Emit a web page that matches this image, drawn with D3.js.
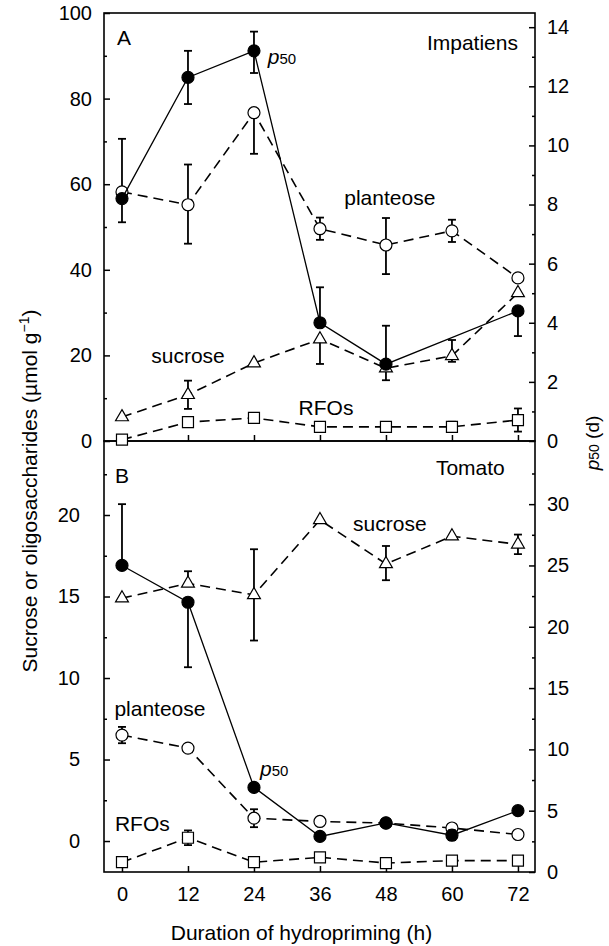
<!DOCTYPE html>
<html>
<head>
<meta charset="utf-8">
<title>Hydropriming</title>
<script src="https://d3js.org/d3.v7.min.js"></script>
<style>
	body{ margin:0; background:#fff; }
	text{ font-family: "Liberation Sans", Arial, sans-serif; fill:#000; }
</style>
</head>
<body>
<script>
	// values
	var hours = [0, 12, 24, 36, 48, 60, 72]

	// A: Impatiens (sugars on left axis, p50 on right axis)
	var impP50 = [8.2, 12.3, 13.2, 4.0, 2.6, null, 4.4]
	var impP50Hi = [0, 0.9, 0.65, 1.2, 1.3, 0, 0]
	var impP50Lo = [0.8, 0.9, 0.75, 0, 0, 0, 0.85]
	var impPlanteose = [58.2, 55.2, 76.7, 49.6, 45.8, 49.1, 38.1]
	var impPlanteoseHi = [12.4, 9.4, 0, 2.6, 6.3, 2.6, 0]
	var impPlanteoseLo = [0, 9.1, 9.6, 2.6, 6.8, 2.6, 0]
	var impSucrose = [5.6, 10.8, 18.2, 23.8, 17.0, 19.9, 34.6]
	var impSucroseHi = [0, 3.3, 0, 0, 0, 3.7, 0]
	var impSucroseLo = [0, 3.3, 0, 5.8, 2.8, 1.4, 0]
	var impRFOs = [0.3, 4.4, 5.4, 3.3, 3.3, 3.3, 4.9]
	var impRFOsErr = [0.5, 1.0, 0, 0, 0, 1.2, 2.7]

	// B: Tomato
	var tomP50 = [25.0, 22.0, 6.9, 2.9, 4.0, 3.0, 5.0]
	var tomP50Hi = [5.0, 0, 0, 0, 0, 0.4, 0]
	var tomP50Lo = [0, 5.3, 0, 0, 0, 0.4, 0]
	var tomSucrose = [14.9, 15.8, 15.1, 19.7, 17.0, 18.7, 18.2]
	var tomSucroseHi = [0, 0.75, 2.8, 0, 1.1, 0, 0.6]
	var tomSucroseLo = [0, 0, 2.8, 0, 1.0, 0, 0.6]
	var tomPlanteose = [6.5, 5.7, 1.4, 1.2, 1.1, 0.8, 0.4]
	var tomPlanteoseErr = [0.5, 0, 0.55, 0, 0, 0, 0]
	var tomRFOs = [-1.3, 0.2, -1.3, -1.0, -1.35, -1.2, -1.2]
	var tomRFOsErr = [0, 0.45, 0, 0, 0, 0, 0]

	var xTicks = [0, 12, 24, 36, 48, 60, 72]
	var aLeftTicks = [0, 20, 40, 60, 80, 100]
	var aLeftMinor = [10, 30, 50, 70, 90]
	var aRightTicks = [0, 2, 4, 6, 8, 10, 12, 14]
	var aRightMinor = [1, 3, 5, 7, 9, 11, 13]
	var bLeftTicks = [0, 5, 10, 15, 20]
	var bLeftMinor = [2.5, 7.5, 12.5, 17.5, 22.5]
	var bRightTicks = [0, 5, 10, 15, 20, 25, 30]
	var bRightMinor = [2.5, 7.5, 12.5, 17.5, 22.5, 27.5, 32.5]

	var W = 609, H = 946
	var padL = 104, padR = 535, topY = 13, midY = 441, botY = 872

	var svg = d3.select("body").append("svg").attr("width", W).attr("height", H)

	var x = d3.scaleLinear().domain([-3.27, 75.1]).range([padL, padR])
	var yA = d3.scaleLinear().domain([0, 100]).range([midY, topY])
	var yA2 = d3.scaleLinear().domain([0, 14.48]).range([midY, topY])
	var yB = d3.scaleLinear().domain([-1.9, 24.54]).range([botY, midY])
	var yB2 = d3.scaleLinear().domain([0, 35.15]).range([botY, midY])

	function axes(y, y2, y0, lt, lm, rt, rm, leftPad, showX){
		var g = svg.append("g")
		g.append("g").attr("transform", "translate(" + padL + ",0)")
			.call(d3.axisLeft(y).tickValues(lt).tickSizeInner(-6).tickSizeOuter(0).tickPadding(leftPad))
		g.append("g").attr("transform", "translate(" + padL + ",0)")
			.call(d3.axisLeft(y).tickValues(lm).tickSizeInner(-3).tickSizeOuter(0).tickFormat(""))
		g.append("g").attr("transform", "translate(" + padR + ",0)")
			.call(d3.axisRight(y2).tickValues(rt).tickSizeInner(-6).tickSizeOuter(0).tickPadding(12))
		g.append("g").attr("transform", "translate(" + padR + ",0)")
			.call(d3.axisRight(y2).tickValues(rm).tickSizeInner(-3).tickSizeOuter(0).tickFormat(""))
		g.append("g").attr("transform", "translate(0," + y0 + ")")
			.call(d3.axisBottom(x).tickValues(xTicks).tickSizeInner(-6).tickSizeOuter(0).tickPadding(15)
				.tickFormat(showX ? d3.format("d") : ""))
		g.selectAll(".domain").remove()
		g.selectAll(".tick line").attr("stroke", "#000").attr("stroke-width", 1.5)
		g.selectAll(".tick text").attr("font-size", 20).attr("font-family", "Liberation Sans, Arial, sans-serif")
	}

	axes(yA, yA2, midY, aLeftTicks, aLeftMinor, aRightTicks, aRightMinor, 12, false)
	axes(yB, yB2, botY, bLeftTicks, bLeftMinor, bRightTicks, bRightMinor, 24, true)

	// frames
	svg.append("rect").attr("x", padL).attr("y", topY).attr("width", padR - padL).attr("height", midY - topY)
		.attr("fill", "none").attr("stroke", "#000").attr("stroke-width", 1.6)
	svg.append("rect").attr("x", padL).attr("y", midY).attr("width", padR - padL).attr("height", botY - midY)
		.attr("fill", "none").attr("stroke", "#000").attr("stroke-width", 1.6)

	function series(y, vals, hi, lo, marker, dashed){
		var pts = hours.map(function(h, i){ return {h: h, v: vals[i], hi: hi[i], lo: lo[i]} })
			.filter(function(d){ return d.v != null })
		var g = svg.append("g")
		var line = d3.line().x(function(d){ return x(d.h) }).y(function(d){ return y(d.v) })
		g.append("path").datum(pts).attr("d", line).attr("fill", "none").attr("stroke", "#000")
			.attr("stroke-width", dashed ? 1.6 : 1.3)
			.attr("stroke-dasharray", dashed ? "10,6" : null)

		// error bars
		var cap = 4
		pts.forEach(function(d){
			var cx = x(d.h)
			if(d.hi > 0){
				g.append("line").attr("x1", cx).attr("x2", cx).attr("y1", y(d.v)).attr("y2", y(d.v + d.hi))
					.attr("stroke", "#000").attr("stroke-width", 1.8)
				g.append("line").attr("x1", cx - cap).attr("x2", cx + cap).attr("y1", y(d.v + d.hi)).attr("y2", y(d.v + d.hi))
					.attr("stroke", "#000").attr("stroke-width", 1.8)
			}
			if(d.lo > 0){
				g.append("line").attr("x1", cx).attr("x2", cx).attr("y1", y(d.v)).attr("y2", y(d.v - d.lo))
					.attr("stroke", "#000").attr("stroke-width", 1.8)
				g.append("line").attr("x1", cx - cap).attr("x2", cx + cap).attr("y1", y(d.v - d.lo)).attr("y2", y(d.v - d.lo))
					.attr("stroke", "#000").attr("stroke-width", 1.8)
			}
		})

		// markers
		var m = g.selectAll(".m").data(pts).enter()
		if(marker == "filled" || marker == "open"){
			m.append("circle").attr("cx", function(d){ return x(d.h) }).attr("cy", function(d){ return y(d.v) })
				.attr("r", 6).attr("fill", marker == "filled" ? "#000" : "#fff").attr("stroke", "#000").attr("stroke-width", 1.2)
		}else{
			var sym = d3.symbol().type(marker == "triangle" ? d3.symbolTriangle : d3.symbolSquare)
				.size(marker == "triangle" ? 72 : 121)
			m.append("path").attr("d", sym)
				.attr("transform", function(d){ return "translate(" + x(d.h) + "," + y(d.v) + ")" })
				.attr("fill", "#fff").attr("stroke", "#000").attr("stroke-width", 1.2)
		}
	}

	// panel A
	series(yA, impRFOs, impRFOsErr, impRFOsErr, "square", true)
	series(yA, impSucrose, impSucroseHi, impSucroseLo, "triangle", true)
	series(yA, impPlanteose, impPlanteoseHi, impPlanteoseLo, "open", true)
	series(yA2, impP50, impP50Hi, impP50Lo, "filled", false)

	// panel B
	series(yB, tomRFOs, tomRFOsErr, tomRFOsErr, "square", true)
	series(yB, tomPlanteose, tomPlanteoseErr, tomPlanteoseErr, "open", true)
	series(yB, tomSucrose, tomSucroseHi, tomSucroseLo, "triangle", true)
	series(yB2, tomP50, tomP50Hi, tomP50Lo, "filled", false)

	// labels in data units of each panel's left axis
	function label(y, h, v, txt, anchor){
		return svg.append("text").attr("x", x(h)).attr("y", y(v)).attr("dy", "0.36em")
			.attr("font-size", 21).attr("text-anchor", anchor || "middle").text(txt)
	}
	function p50(y, h, v){
		var t = svg.append("text").attr("x", x(h)).attr("y", y(v)).attr("dy", "0.2em").attr("font-size", 21)
		t.append("tspan").attr("font-style", "italic").text("p")
		t.append("tspan").attr("font-size", 15).text("50")
	}

	label(yA, -0.9, 94.2, "A", "start")
	label(yA, 72, 93.2, "Impatiens", "end")
	p50(yA, 26.5, 89)
	label(yA, 48.7, 57, "planteose")
	label(yA, 12, 19.9, "sucrose")
	label(yA, 37.1, 7.9, "RFOs")

	label(yB, -1.27, 22.45, "B", "start")
	label(yB, 69.6, 22.9, "Tomato", "end")
	label(yB, 48.7, 19.5, "sucrose")
	label(yB, 6.9, 8.16, "planteose")
	p50(yB, 25.1, 4.23)
	label(yB, 3.7, 1.1, "RFOs")

	// axis titles
	svg.append("text").attr("x", (padL + padR) / 2 - 18).attr("y", 940).attr("text-anchor", "middle")
		.attr("font-size", 21).text("Duration of hydropriming (h)")

	var yt = svg.append("text").attr("transform", "translate(37," + 491 + ") rotate(-90)")
		.attr("text-anchor", "middle").attr("font-size", 21)
	yt.append("tspan").text("Sucrose or oligosaccharides (\u00b5mol g")
	yt.append("tspan").attr("font-size", 14).attr("dy", "-0.6em").text("\u22121")
	yt.append("tspan").attr("dy", "0.4em").text(")")

	var rt = svg.append("text").attr("transform", "translate(599," + 443 + ") rotate(-90)")
		.attr("text-anchor", "middle").attr("font-size", 19)
	rt.append("tspan").attr("font-style", "italic").text("p")
	rt.append("tspan").attr("font-size", 14).text("50")
	rt.append("tspan").text(" (d)")
</script>
</body>
</html>
